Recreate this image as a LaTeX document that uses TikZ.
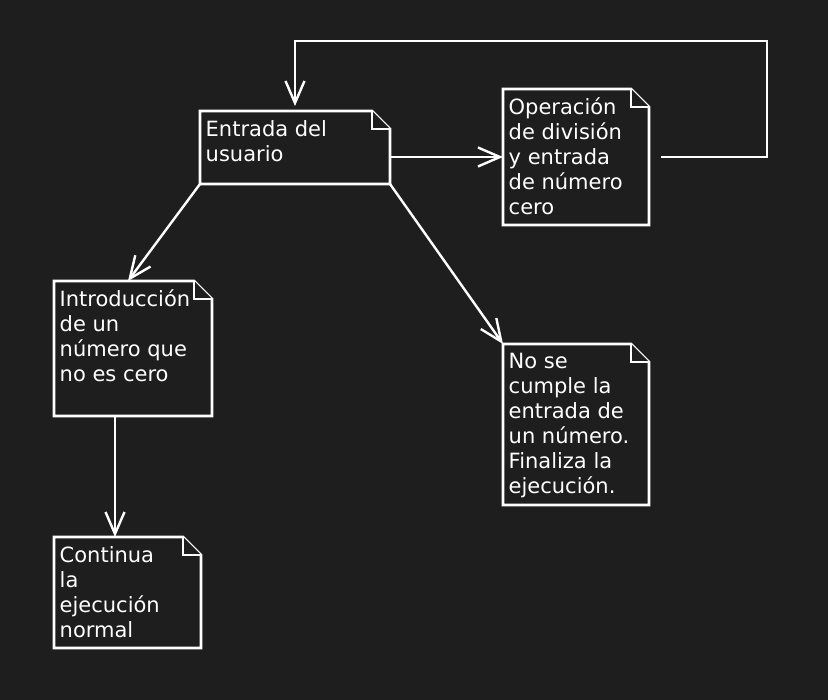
\documentclass[tikz,border=0pt]{standalone}
\usepackage{fontspec}
\setmainfont{DejaVu Sans}
\usetikzlibrary{arrows.meta}
\usetikzlibrary{positioning}
\definecolor{canvas}{HTML}{1E1E1E}
\tikzstyle{notebox}=[rectangle,inner sep=0pt,outer sep=0pt,anchor=north west]
\tikzstyle{noteline}=[draw=white,line width=2.6pt,fill=canvas]
\tikzstyle{notetext}=[text=white,font=\fontsize{21}{25}\selectfont,align=left,inner sep=0pt,anchor=north west,execute at begin node={\rule{0pt}{19pt}}]
\tikzstyle{link}=[draw=white,line width=2.4pt,-{Straight Barb[length=22pt,width=19pt]}]
% folded note outline round a named node
\newcommand{\drawnote}[1]{%
  \draw[noteline] (#1.north west) -- ([xshift=-18pt]#1.north east) -- ([yshift=-18pt]#1.north east)
     -- (#1.south east) -- (#1.south west) -- cycle;
  \draw[noteline] ([xshift=-18pt]#1.north east) |- ([yshift=-18pt]#1.north east);}

\begin{document}
\begin{tikzpicture}[x=1pt,y=-1pt]
    % background
    \fill[canvas] (0,0) rectangle (828,700);
    \useasboundingbox (0,0) rectangle (828,700);

    % First we draw the notes
    \foreach \name/\x/\y/\w/\h/\txt in {
        entrada/200/111/190/73/{Entrada del\\usuario},
        operacion/503/89/146/136/{Operación\\de división\\y entrada\\de número\\cero},
        intro/54/281/158/135/{Introducción\\de un\\número que\\no es cero},
        nose/503/344/146/161/{No se\\cumple la\\entrada de\\un número.\\Finaliza la\\ejecución.},
        continua/54/537/147/111/{Continua\\la\\ejecución\\normal}} {
        \node[notebox,minimum width=\w pt,minimum height=\h pt] (\name) at (\x,\y) {};
        \drawnote{\name}
        \node[notetext] (\name-text) at ([shift={(5.5pt,-9pt)}]\name.north west) {\txt};
    }

    % Connect notes with arrows
    \coordinate (loopstart) at ([xshift=12pt]operacion.east);
    \coordinate (loopcorner) at (767,41);
    \draw[link] (entrada.east |- operacion.west) -- (operacion.west);
    \draw[link] (loopstart) -| (loopcorner) -| ([yshift=5pt]entrada.north);
    \draw[link] (entrada.south west) -- ([xshift=-5pt]intro.north);
    \draw[link] (entrada.south east) -- (nose.north west);
    \draw[link] ([xshift=-18pt]intro.south) -- ([xshift=-18pt]intro.south |- continua.north);
\end{tikzpicture}
\end{document}
